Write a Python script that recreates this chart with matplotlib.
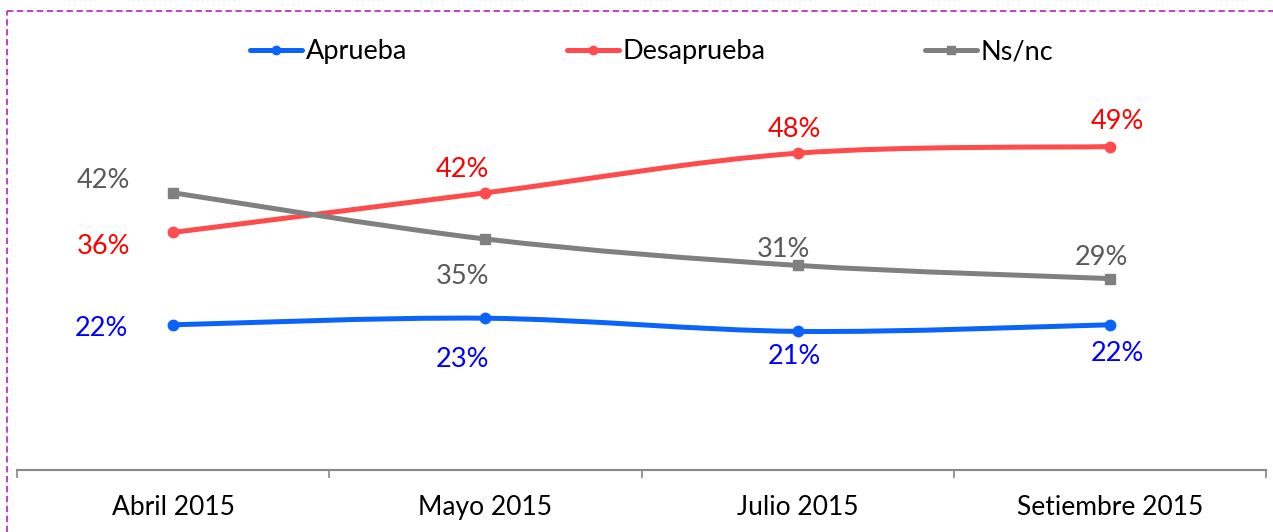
import numpy as np
import matplotlib
matplotlib.use("Agg")
import matplotlib.pyplot as plt
from matplotlib.path import Path
from matplotlib.patches import PathPatch
from matplotlib.lines import Line2D

# data
months = ["Abril 2015", "Mayo 2015", "Julio 2015", "Setiembre 2015"]
aprueba = [22, 23, 21, 22]
desaprueba = [36, 42, 48, 49]
nsnc = [42, 35, 31, 29]

series = [
    ("Aprueba", aprueba, "#0A64FA", "#0000FF", "o"),
    ("Desaprueba", desaprueba, "#FF4B4B", "#FF0000", "o"),
    ("Ns/nc", nsnc, "#808080", "#595959", "s"),
]

# label offsets in pixels (dx, dy to the centre of the digits, up is positive)
label_offsets = {
    "Aprueba": [(-72, 0), (-23, -38), (-3, -22), (8, -25)],
    "Desaprueba": [(-70, -11), (-23, 27), (-3, 27), (8, 29)],
    "Ns/nc": [(-70, 16), (-23, -34), (-14, 19), (-8, 25)],
}

TXT_FONT = ["Lato", "DejaVu Sans"]


def smooth_path(xs, ys):
    # Bezier curve through the points, like a smoothed spreadsheet line
    pts = np.column_stack([xs, ys]).astype(float)
    n = len(pts)
    verts = [pts[0]]
    codes = [Path.MOVETO]
    for i in range(n - 1):
        p0 = pts[i - 1] if i > 0 else pts[i]
        p1 = pts[i]
        p2 = pts[i + 1]
        p3 = pts[i + 2] if i + 2 < n else pts[i + 1]
        c1 = p1 + (p2 - p0) / 6.0
        c2 = p2 - (p3 - p1) / 6.0
        verts += [c1, c2, p2]
        codes += [Path.CURVE4] * 3
    return Path(verts, codes)


fig = plt.figure(figsize=(12.73, 5.32), dpi=100)
ax = fig.add_axes([17 / 1273, 62 / 532, 1249 / 1273, 396 / 532])

x = np.arange(len(months))
for name, vals, lc, tc, mk in series:
    patch = PathPatch(smooth_path(x, vals), facecolor="none", edgecolor=lc,
                      lw=3.6, capstyle="round", joinstyle="round")
    ax.add_patch(patch)
    ax.plot(x, vals, linestyle="none", marker=mk, color=lc, markersize=7.5)
    for xi, v, (dx, dy) in zip(x, vals, label_offsets[name]):
        ax.annotate(f"{v}%", (xi, v), xytext=(dx * 0.72, (dy - 11) * 0.72),
                    textcoords="offset points", ha="center", va="baseline",
                    color=tc, fontsize=19.5, family=TXT_FONT)

ax.set_xlim(-0.5, len(months) - 0.5)
ax.set_ylim(0, 60)
ax.set_yticks([])
for s in ["top", "right", "left"]:
    ax.spines[s].set_visible(False)
ax.spines["bottom"].set_color("#888888")
ax.spines["bottom"].set_linewidth(1.5)

ax.set_xticks(x)
ax.set_xticklabels(months, fontsize=19, family=TXT_FONT)
ax.set_xticks(np.arange(len(months) + 1) - 0.5, minor=True)
ax.tick_params(axis="x", which="major", length=0, pad=18)
ax.tick_params(axis="x", which="minor", length=6, width=1.2, color="#888888",
               direction="out")

handles = [Line2D([], [], color=lc, lw=3.6, marker=mk, markersize=6,
                  solid_capstyle="round")
           for _, _, lc, _, mk in series]
fig.legend(handles, [s[0] for s in series], loc="center",
           bbox_to_anchor=(652 / 1273, 1 - 52 / 532), ncol=3, frameon=False,
           handlelength=1.9, handletextpad=0.15, columnspacing=5.9,
           prop={"family": TXT_FONT, "size": 19.5})

# dashed frame around the chart (top and left edges)
fig.add_artist(Line2D([7 / 1273, 1], [1 - 11 / 532, 1 - 11 / 532],
                      transform=fig.transFigure, color="#C030C0", lw=1.3,
                      linestyle=(0, (3.5, 2))))
fig.add_artist(Line2D([7 / 1273, 7 / 1273], [0, 1 - 11 / 532],
                      transform=fig.transFigure, color="#C030C0", lw=1.3,
                      linestyle=(0, (3.5, 2))))

fig.savefig("out.png", dpi=100)
